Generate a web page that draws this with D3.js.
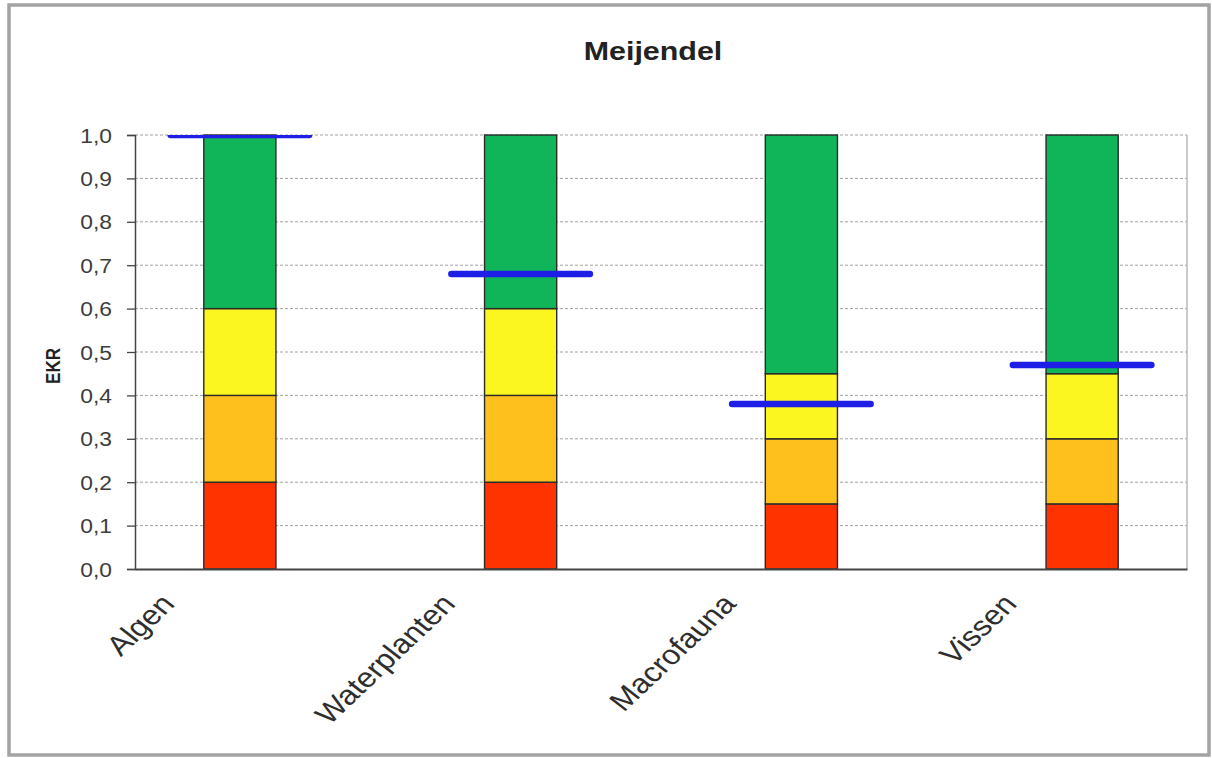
<!DOCTYPE html>
<html>
<head>
<meta charset="utf-8">
<script src="https://cdn.jsdelivr.net/npm/d3@7/dist/d3.min.js"></script>
<style>
  html, body { margin: 0; padding: 0; background: #fff; }
  svg { display: block; font-family: "Liberation Sans", Arial, sans-serif; }
</style>
</head>
<body>
<svg id="chart" width="1212" height="758"></svg>
<script>
// Kwaliteitsklassen (EKR) per biologisch kwaliteitselement, Meijendel
const categories = ["Algen", "Waterplanten", "Macrofauna", "Vissen"];
// bovengrenzen van de klassen slecht / ontoereikend / matig / goed
const grensSlecht       = [0.20, 0.20, 0.15, 0.15];
const grensOntoereikend = [0.40, 0.40, 0.30, 0.30];
const grensMatig        = [0.60, 0.60, 0.45, 0.45];
const grensGoed         = [1.00, 1.00, 1.00, 1.00];
// gemeten EKR-score
const ekrScore = [1.00, 0.68, 0.38, 0.47];
const yTickValues = [0, 0.1, 0.2, 0.3, 0.4, 0.5, 0.6, 0.7, 0.8, 0.9, 1.0];
const classColors = ["#ff3300", "#fdc01c", "#fbf520", "#10b55a"];

const svg = d3.select("#chart");
const plot = { left: 135, right: 1187, top: 135, bottom: 569 };
const SX = 1.17; // horizontal stretch of the text glyphs

// outer frame
svg.append("rect")
  .attr("x", 9).attr("y", 5).attr("width", 1200).attr("height", 750)
  .attr("fill", "#fff").attr("stroke", "#a3a3a3").attr("stroke-width", 3.5);

const x = d3.scaleBand()
  .domain(categories)
  .range([plot.left, plot.right])
  .paddingInner(0.743)
  .paddingOuter(0.245);

const y = d3.scaleLinear().domain([0, 1]).range([plot.bottom, plot.top]);

// gridlines
svg.append("g")
  .selectAll("line")
  .data(yTickValues.filter(v => v > 0))
  .join("line")
  .attr("x1", plot.left).attr("x2", plot.right)
  .attr("y1", d => y(d)).attr("y2", d => y(d))
  .attr("stroke", "#a0a0a0").attr("stroke-width", 1)
  .attr("stroke-dasharray", "3,2");

// right border of plot area
svg.append("line")
  .attr("x1", plot.right).attr("x2", plot.right)
  .attr("y1", plot.top).attr("y2", plot.bottom)
  .attr("stroke", "#b8b8b8").attr("stroke-width", 1.5);

// stacked class segments
const segments = [];
categories.forEach((c, i) => {
  const bounds = [0, grensSlecht[i], grensOntoereikend[i], grensMatig[i], grensGoed[i]];
  for (let k = 0; k < 4; k++) {
    segments.push({ cat: c, k, y0: bounds[k], y1: bounds[k + 1] });
  }
});

svg.append("g")
  .selectAll("rect")
  .data(segments)
  .join("rect")
  .attr("x", d => x(d.cat))
  .attr("width", x.bandwidth())
  .attr("y", d => y(d.y1))
  .attr("height", d => y(d.y0) - y(d.y1))
  .attr("fill", d => classColors[d.k])
  .attr("stroke", "#2a2a2a").attr("stroke-width", 1.4);

// axes
const yAxis = d3.axisLeft(y)
  .tickValues(yTickValues)
  .tickSize(8)
  .tickFormat(d => d3.format(".1f")(d).replace(".", ","));

const gy = svg.append("g")
  .attr("transform", `translate(${plot.left},0)`)
  .call(yAxis);
gy.select(".domain").attr("stroke", "#444").attr("stroke-width", 1.5);
gy.selectAll(".tick line").attr("stroke", "#444").attr("stroke-width", 1.3);
gy.selectAll(".tick text")
  .attr("x", -23 / SX)
  .attr("dy", "0.36em")
  .attr("transform", `scale(${SX},1)`)
  .attr("fill", "#3c3c3c")
  .attr("font-size", 19.5);

const xAxis = d3.axisBottom(x).tickSize(0).tickPadding(0);
const gx = svg.append("g")
  .attr("transform", `translate(0,${plot.bottom})`)
  .call(xAxis);
gx.select(".domain").attr("stroke", "#444").attr("stroke-width", 1.8);
gx.selectAll(".tick text")
  .attr("y", 0).attr("dy", 0)
  .attr("text-anchor", "end")
  .attr("transform", `translate(-64,36) scale(${SX},1) rotate(-48)`)
  .attr("fill", "#2e2e2e")
  .attr("font-size", 27.5);

// EKR score markers, clipped to the plot area
svg.append("clipPath").attr("id", "plotClip")
  .append("rect")
  .attr("x", plot.left).attr("y", plot.top)
  .attr("width", plot.right - plot.left).attr("height", plot.bottom - plot.top);

svg.append("g")
  .attr("clip-path", "url(#plotClip)")
  .selectAll("line")
  .data(categories.map((c, i) => ({ cat: c, v: ekrScore[i] })))
  .join("line")
  .attr("x1", d => x(d.cat) + x.bandwidth() / 2 - x.bandwidth() * 0.96)
  .attr("x2", d => x(d.cat) + x.bandwidth() / 2 + x.bandwidth() * 0.96)
  .attr("y1", d => y(d.v)).attr("y2", d => y(d.v))
  .attr("stroke", "#1e1ee6").attr("stroke-width", 6.5)
  .attr("stroke-linecap", "round");

// title
svg.append("text")
  .attr("transform", `translate(653,60) scale(${SX},1)`)
  .attr("text-anchor", "middle")
  .attr("font-weight", "bold")
  .attr("font-size", 26)
  .attr("fill", "#222")
  .text("Meijendel");

// y axis title
svg.append("text")
  .attr("transform", `translate(60,366) scale(${SX},1) rotate(-90)`)
  .attr("text-anchor", "middle")
  .attr("font-weight", "bold")
  .attr("font-size", 17)
  .attr("fill", "#222")
  .text("EKR");
</script>
</body>
</html>
